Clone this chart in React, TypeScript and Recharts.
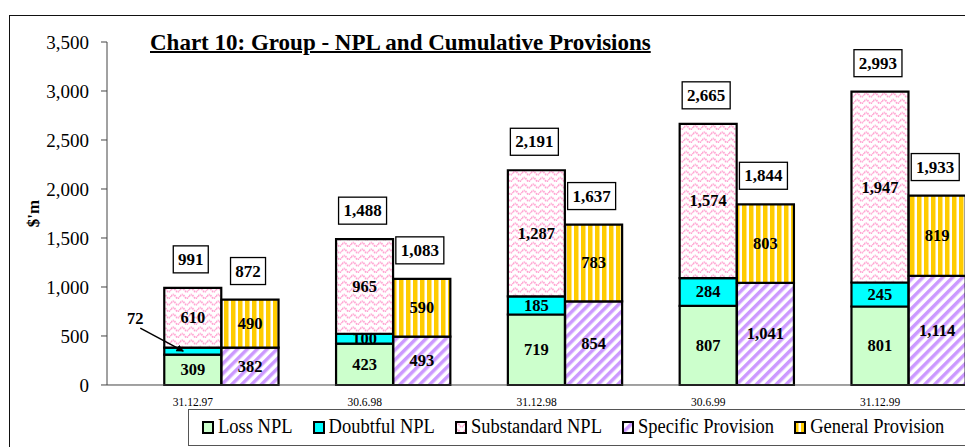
import { BarChart, Bar, XAxis, YAxis, Legend, LabelList } from 'recharts';

const DATES = ['31.12.97', '30.6.98', '31.12.98', '30.6.99', '31.12.99'];
const LOSS = [309, 423, 719, 807, 801];
const DOUBTFUL = [72, 100, 185, 284, 245];
const SUBSTANDARD = [610, 965, 1287, 1574, 1947];
const SPECIFIC = [382, 493, 854, 1041, 1114];
const GENERAL = [490, 590, 783, 803, 819];
const Y_TICKS = [0, 500, 1000, 1500, 2000, 2500, 3000, 3500];
const SERIES_NAMES = ['Loss NPL', 'Doubtful NPL', 'Substandard NPL', 'Specific Provision', 'General Provision'];

const FONT = '"Liberation Serif", "Times New Roman", serif';

// every date gets three slots: an empty gap, the NPL stack and the provision stack
const rows = DATES.flatMap((d, i) => [
  { name: '' },
  {
    name: d,
    loss: LOSS[i],
    doubtful: DOUBTFUL[i],
    sub: SUBSTANDARD[i],
    nplTotal: LOSS[i] + DOUBTFUL[i] + SUBSTANDARD[i],
  },
  { name: '', spec: SPECIFIC[i], gen: GENERAL[i], provTotal: SPECIFIC[i] + GENERAL[i] },
]).map((r, idx) => ({ ...r, idx }));

const EDGES = [...rows.map((r) => r.idx), rows.length];

const fmt = (v: number) => v.toLocaleString('en-US');

function SegLabel(props: any) {
  const { x, y, width, height, value } = props;
  if (value == null) return null;
  const cx = x + width / 2;
  const cy = y + height / 2;
  const style = { fontFamily: FONT, fontWeight: 700, fontSize: 16.5, fill: '#000' };
  if (Math.abs(height) < 9) {
    // too thin to hold its number, so point at it from outside
    return (
      <g>
        <text x={x - 29} y={cy - 33} textAnchor="middle" dominantBaseline="central" style={style}>
          {fmt(value)}
        </text>
        <line x1={x - 24} y1={cy - 23} x2={x + 19} y2={cy} stroke="#000" strokeWidth={1.5} markerEnd="url(#arrow)" />
      </g>
    );
  }
  return (
    <text x={cx} y={cy} textAnchor="middle" dominantBaseline="central" style={style}>
      {fmt(value)}
    </text>
  );
}

function TotalBox(props: any) {
  const { x, y, width, value } = props;
  if (value == null) return null;
  const label = fmt(value);
  const w = label.length > 3 ? 48 : 35;
  const cx = x + width / 2 - 2;
  const cy = y - 28.5;
  return (
    <g>
      <rect x={cx - w / 2} y={cy - 13.5} width={w} height={27} fill="#fff" stroke="#000" strokeWidth={1.3} />
      <text
        x={cx}
        y={cy}
        textAnchor="middle"
        dominantBaseline="central"
        style={{ fontFamily: FONT, fontWeight: 700, fontSize: 17, fill: '#000' }}
      >
        {label}
      </text>
    </g>
  );
}

function LegendBox({ payload }: any) {
  const items = [...(payload || [])].sort(
    (a: any, b: any) => SERIES_NAMES.indexOf(a.value) - SERIES_NAMES.indexOf(b.value),
  );
  return (
    <div
      style={{
        display: 'flex',
        alignItems: 'center',
        height: 37,
        boxSizing: 'border-box',
        paddingLeft: 13,
        border: '1.5px solid #555',
        background: '#fff',
        fontFamily: FONT,
        fontSize: 18.5,
        color: '#000',
        whiteSpace: 'nowrap',
      }}
    >
      {items.map((p: any) => (
        <span key={p.value} style={{ display: 'flex', alignItems: 'center', marginRight: 20 }}>
          <svg width={12} height={13} style={{ display: 'block' }}>
            <rect x={1} y={1} width={10} height={11} fill={p.color} stroke="#000" strokeWidth={2} />
          </svg>
          <span style={{ marginLeft: 4, display: 'inline-block', transform: 'scaleY(1.08)' }}>{p.value}</span>
        </span>
      ))}
    </div>
  );
}

export default function App() {
  return (
    <div
      style={{
        position: 'absolute',
        left: 0,
        top: 0,
        width: 965,
        height: 447,
        overflow: 'hidden',
        background: '#fff',
      }}
    >
      <div
        style={{
          position: 'absolute',
          left: 9,
          top: 15,
          width: 1200,
          height: 600,
          border: '1.5px solid #111',
        }}
      />
      <div
        style={{
          position: 'absolute',
          left: 150,
          top: 31,
          fontFamily: FONT,
          fontWeight: 700,
          fontSize: 23,
          lineHeight: '23px',
          textDecoration: 'underline',
          textDecorationThickness: 2,
          whiteSpace: 'nowrap',
          color: '#000',
        }}
      >
        Chart 10: Group - NPL and Cumulative Provisions
      </div>
      <div style={{ position: 'absolute', left: 0, top: 0 }}>
        <BarChart
          width={1000}
          height={447}
          data={rows}
          margin={{ top: 42, right: 34, bottom: 62, left: 0 }}
          barCategoryGap={0}
          barGap={0}
        >
          <defs>
            <pattern id="waves" patternUnits="userSpaceOnUse" width={9} height={6.5}>
              <rect width={9} height={6.5} fill="#fff" />
              <path
                d="M0 4 Q2.25 0.6 4.5 4 T9 4"
                fill="none"
                stroke="#FF99CC"
                strokeWidth={1.8}
                strokeDasharray="1.4 0.7"
              />
            </pattern>
            <pattern id="vstripes" patternUnits="userSpaceOnUse" width={7} height={7}>
              <rect width={7} height={7} fill="#FFCC00" />
              <rect x={4.5} width={2.5} height={7} fill="#fff" />
            </pattern>
            <pattern id="diag" patternUnits="userSpaceOnUse" width={7} height={7} patternTransform="rotate(45)">
              <rect width={7} height={7} fill="#fff" />
              <rect width={3.5} height={7} fill="#CC99FF" />
            </pattern>
            <marker id="arrow" viewBox="0 0 10 10" refX={9} refY={5} markerWidth={5} markerHeight={5} orient="auto">
              <path d="M0 0 L10 5 L0 10 z" fill="#000" />
            </marker>
          </defs>
          <XAxis
            dataKey="name"
            interval={0}
            height={0.01}
            tickLine={false}
            axisLine={false}
            tickSize={4}
            tickMargin={9}
            tick={{ fontSize: 11.5, fill: '#000', fontFamily: FONT }}
          />
          <XAxis
            xAxisId="edges"
            type="number"
            dataKey="idx"
            domain={[0, rows.length]}
            ticks={EDGES}
            tick={false}
            tickSize={4}
            height={0.01}
            stroke="#444"
          />
          <YAxis
            width={107}
            domain={[0, 3500]}
            ticks={Y_TICKS}
            tickFormatter={fmt}
            tickSize={6}
            tickMargin={12}
            stroke="#444"
            tick={{ fontSize: 19, fill: '#000', fontFamily: FONT }}
            label={{
              content: ({ viewBox }: any) => (
                <text
                  transform={`translate(${viewBox.x + 33},${viewBox.y + viewBox.height / 2}) rotate(-90)`}
                  textAnchor="middle"
                  dominantBaseline="central"
                  style={{ fontFamily: FONT, fontWeight: 700, fontSize: 17, fill: '#000' }}
                >
                  $'m
                </text>
              ),
            }}
          />
          <Legend
            layout="vertical"
            align="center"
            verticalAlign="middle"
            content={<LegendBox />}
            wrapperStyle={{ position: 'absolute', left: 188, top: 409, width: 800, height: 37 }}
          />
          <Bar dataKey="loss" name="Loss NPL" stackId="s" fill="#CCFFCC" stroke="#000" strokeWidth={2.2} isAnimationActive={false}>
            <LabelList dataKey="loss" content={SegLabel} />
          </Bar>
          <Bar dataKey="doubtful" name="Doubtful NPL" stackId="s" fill="#00FFFF" stroke="#000" strokeWidth={2.2} isAnimationActive={false}>
            <LabelList dataKey="doubtful" content={SegLabel} />
          </Bar>
          <Bar dataKey="sub" name="Substandard NPL" stackId="s" fill="url(#waves)" stroke="#000" strokeWidth={2.2} isAnimationActive={false}>
            <LabelList dataKey="sub" content={SegLabel} />
            <LabelList dataKey="nplTotal" content={TotalBox} />
          </Bar>
          <Bar dataKey="spec" name="Specific Provision" stackId="s" fill="url(#diag)" stroke="#000" strokeWidth={2.2} isAnimationActive={false}>
            <LabelList dataKey="spec" content={SegLabel} />
          </Bar>
          <Bar dataKey="gen" name="General Provision" stackId="s" fill="url(#vstripes)" stroke="#000" strokeWidth={2.2} isAnimationActive={false}>
            <LabelList dataKey="gen" content={SegLabel} />
            <LabelList dataKey="provTotal" content={TotalBox} />
          </Bar>
        </BarChart>
      </div>
    </div>
  );
}
